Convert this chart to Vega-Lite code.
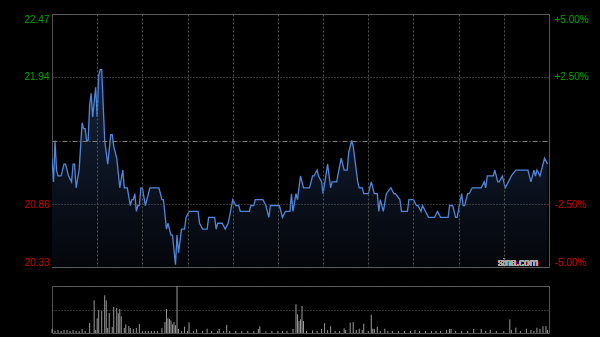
{
"$schema": "https://vega.github.io/schema/vega-lite/v6.json",
"background": "#000000",
"padding": {"left": 23, "top": 13, "right": 13, "bottom": 5},
"bounds": "flush",
"spacing": 19,
"config": {
  "font": "Liberation Sans",
  "view": {"stroke": "#555555", "strokeWidth": 1},
  "axis": {"labelFont": "Liberation Sans", "labelFontSize": 10, "ticks": false, "domain": false, "title": null}
},
"datasets": {
"price": [
{"t":0,"p":21.25},{"t":1,"p":21.05},{"t":2,"p":21.40},{"t":3,"p":21.15},{"t":4,"p":21.10},{"t":6,"p":21.10},{"t":8,"p":21.20},{"t":9,"p":21.20},{"t":11,"p":21.10},{"t":13,"p":21.05},{"t":14,"p":21.20},{"t":15,"p":21.20},{"t":16,"p":21.00},{"t":18,"p":21.15},{"t":20,"p":21.55},{"t":21,"p":21.50},{"t":22,"p":21.50},{"t":23,"p":21.40},{"t":24,"p":21.40},{"t":25,"p":21.70},{"t":26,"p":21.80},{"t":27,"p":21.60},{"t":29,"p":21.85},{"t":30,"p":21.60},{"t":31,"p":21.95},{"t":32,"p":22.00},{"t":33,"p":22.00},{"t":35,"p":21.40},{"t":36,"p":21.30},{"t":37,"p":21.20},{"t":39,"p":21.45},{"t":40,"p":21.45},{"t":41,"p":21.35},{"t":43,"p":21.25},{"t":45,"p":21.00},{"t":47,"p":21.15},{"t":48,"p":21.00},{"t":50,"p":21.00},{"t":52,"p":20.85},{"t":53,"p":20.90},{"t":54,"p":20.90},{"t":55,"p":20.95},{"t":56,"p":20.80},{"t":57,"p":20.85},{"t":58,"p":20.85},{"t":59,"p":21.00},{"t":60,"p":21.00},{"t":62,"p":20.85},{"t":63,"p":20.90},{"t":65,"p":21.00},{"t":71,"p":21.00},{"t":73,"p":20.90},{"t":74,"p":20.90},{"t":76,"p":20.65},{"t":77,"p":20.70},{"t":79,"p":20.60},{"t":80,"p":20.60},{"t":82,"p":20.35},{"t":83,"p":20.60},{"t":84,"p":20.45},{"t":86,"p":20.65},{"t":88,"p":20.65},{"t":89,"p":20.75},{"t":91,"p":20.80},{"t":97,"p":20.80},{"t":98,"p":20.70},{"t":100,"p":20.65},{"t":103,"p":20.65},{"t":104,"p":20.75},{"t":108,"p":20.75},{"t":109,"p":20.65},{"t":110,"p":20.70},{"t":113,"p":20.70},{"t":115,"p":20.65},{"t":117,"p":20.70},{"t":120,"p":20.90},{"t":122,"p":20.85},{"t":124,"p":20.85},{"t":125,"p":20.80},{"t":131,"p":20.80},{"t":132,"p":20.85},{"t":134,"p":20.85},{"t":135,"p":20.90},{"t":140,"p":20.90},{"t":142,"p":20.85},{"t":144,"p":20.75},{"t":145,"p":20.85},{"t":151,"p":20.85},{"t":153,"p":20.75},{"t":155,"p":20.80},{"t":158,"p":20.80},{"t":159,"p":20.95},{"t":160,"p":20.80},{"t":162,"p":20.95},{"t":163,"p":20.90},{"t":165,"p":21.10},{"t":167,"p":21.00},{"t":171,"p":21.00},{"t":173,"p":21.10},{"t":174,"p":21.10},{"t":176,"p":21.15},{"t":177,"p":21.10},{"t":179,"p":21.05},{"t":180,"p":20.95},{"t":183,"p":21.20},{"t":185,"p":21.00},{"t":186,"p":21.05},{"t":189,"p":21.05},{"t":192,"p":21.25},{"t":194,"p":21.15},{"t":196,"p":21.15},{"t":197,"p":21.30},{"t":199,"p":21.40},{"t":200,"p":21.35},{"t":203,"p":21.05},{"t":204,"p":21.00},{"t":206,"p":21.00},{"t":207,"p":20.95},{"t":210,"p":20.95},{"t":212,"p":21.05},{"t":214,"p":20.95},{"t":216,"p":20.95},{"t":217,"p":20.80},{"t":218,"p":20.90},{"t":220,"p":20.80},{"t":222,"p":20.95},{"t":225,"p":21.00},{"t":227,"p":20.95},{"t":228,"p":20.95},{"t":231,"p":20.90},{"t":232,"p":20.80},{"t":236,"p":20.80},{"t":237,"p":20.90},{"t":240,"p":20.90},{"t":242,"p":20.85},{"t":243,"p":20.85},{"t":245,"p":20.80},{"t":246,"p":20.85},{"t":248,"p":20.80},{"t":250,"p":20.75},{"t":254,"p":20.75},{"t":256,"p":20.80},{"t":258,"p":20.75},{"t":263,"p":20.75},{"t":264,"p":20.85},{"t":266,"p":20.85},{"t":268,"p":20.75},{"t":269,"p":20.75},{"t":272,"p":20.95},{"t":273,"p":20.85},{"t":274,"p":20.85},{"t":276,"p":20.95},{"t":277,"p":20.95},{"t":279,"p":21.00},{"t":285,"p":21.00},{"t":287,"p":21.05},{"t":288,"p":21.00},{"t":289,"p":21.10},{"t":293,"p":21.10},{"t":294,"p":21.15},{"t":296,"p":21.05},{"t":297,"p":21.05},{"t":299,"p":21.10},{"t":301,"p":21.00},{"t":303,"p":21.05},{"t":305,"p":21.10},{"t":308,"p":21.15},{"t":316,"p":21.15},{"t":318,"p":21.05},{"t":320,"p":21.15},{"t":321,"p":21.10},{"t":322,"p":21.15},{"t":324,"p":21.10},{"t":325,"p":21.15},{"t":327,"p":21.25},{"t":329,"p":21.20}
],
"vol": [
{"t":0,"v":40000},{"t":2,"v":20000},{"t":4,"v":30000},{"t":6,"v":20000},{"t":8,"v":30000},{"t":10,"v":30000},{"t":12,"v":20000},{"t":14,"v":30000},{"t":16,"v":20000},{"t":18,"v":20000},{"t":20,"v":40000},{"t":22,"v":20000},{"t":25,"v":100000},{"t":28,"v":327000},{"t":29,"v":30000},{"t":30,"v":147000},{"t":31,"v":230000},{"t":33,"v":220000},{"t":35,"v":377000},{"t":36,"v":327000},{"t":37,"v":50000},{"t":38,"v":200000},{"t":40,"v":60000},{"t":41,"v":260000},{"t":43,"v":250000},{"t":44,"v":197000},{"t":45,"v":240000},{"t":46,"v":167000},{"t":48,"v":50000},{"t":49,"v":87000},{"t":51,"v":70000},{"t":52,"v":50000},{"t":54,"v":40000},{"t":56,"v":50000},{"t":58,"v":90000},{"t":60,"v":20000},{"t":62,"v":20000},{"t":64,"v":20000},{"t":66,"v":20000},{"t":68,"v":20000},{"t":70,"v":20000},{"t":73,"v":50000},{"t":75,"v":110000},{"t":76,"v":240000},{"t":77,"v":147000},{"t":78,"v":140000},{"t":79,"v":127000},{"t":80,"v":87000},{"t":81,"v":110000},{"t":82,"v":77000},{"t":83,"v":470000},{"t":84,"v":40000},{"t":86,"v":20000},{"t":88,"v":63000},{"t":90,"v":20000},{"t":91,"v":107000},{"t":94,"v":20000},{"t":96,"v":37000},{"t":100,"v":20000},{"t":103,"v":43000},{"t":106,"v":20000},{"t":110,"v":20000},{"t":111,"v":40000},{"t":114,"v":20000},{"t":116,"v":80000},{"t":118,"v":20000},{"t":122,"v":20000},{"t":126,"v":20000},{"t":130,"v":20000},{"t":134,"v":20000},{"t":137,"v":40000},{"t":138,"v":67000},{"t":142,"v":15000},{"t":146,"v":20000},{"t":150,"v":20000},{"t":153,"v":20000},{"t":156,"v":20000},{"t":160,"v":40000},{"t":162,"v":287000},{"t":163,"v":187000},{"t":164,"v":120000},{"t":165,"v":137000},{"t":166,"v":270000},{"t":167,"v":120000},{"t":169,"v":20000},{"t":173,"v":27000},{"t":176,"v":20000},{"t":179,"v":40000},{"t":181,"v":97000},{"t":183,"v":30000},{"t":185,"v":67000},{"t":188,"v":20000},{"t":191,"v":20000},{"t":194,"v":47000},{"t":195,"v":30000},{"t":198,"v":103000},{"t":200,"v":110000},{"t":202,"v":30000},{"t":204,"v":43000},{"t":206,"v":30000},{"t":207,"v":93000},{"t":210,"v":20000},{"t":212,"v":183000},{"t":213,"v":43000},{"t":214,"v":40000},{"t":216,"v":63000},{"t":218,"v":20000},{"t":221,"v":43000},{"t":223,"v":20000},{"t":226,"v":20000},{"t":230,"v":20000},{"t":234,"v":20000},{"t":238,"v":20000},{"t":241,"v":30000},{"t":244,"v":20000},{"t":248,"v":20000},{"t":252,"v":20000},{"t":255,"v":20000},{"t":258,"v":20000},{"t":262,"v":30000},{"t":264,"v":40000},{"t":265,"v":40000},{"t":268,"v":20000},{"t":272,"v":20000},{"t":276,"v":20000},{"t":280,"v":40000},{"t":285,"v":40000},{"t":288,"v":20000},{"t":291,"v":30000},{"t":295,"v":20000},{"t":300,"v":20000},{"t":304,"v":137000},{"t":305,"v":30000},{"t":308,"v":53000},{"t":311,"v":20000},{"t":315,"v":43000},{"t":318,"v":30000},{"t":320,"v":20000},{"t":322,"v":53000},{"t":324,"v":40000},{"t":326,"v":67000},{"t":328,"v":70000},{"t":329,"v":30000}
]
},
"vconcat": [
{
  "width": 497, "height": 253,
  "data": {"name": "price"},
  "layer": [
    {
      "mark": {"type": "area", "interpolate": "linear", "clip": true,
        "color": {"gradient": "linear", "x1": 0, "y1": 0, "x2": 0, "y2": 1,
          "stops": [{"offset": 0, "color": "#15233c"}, {"offset": 1, "color": "#04060a"}]}},
      "encoding": {
        "x": {"field": "t", "type": "quantitative",
          "scale": {"domain": [0, 330], "nice": false, "zero": false},
          "axis": {"values": [30,60,90,120,150,180,210,240,270,300], "labels": false, "grid": true, "gridColor": "#555555", "gridDash": [2,2], "zindex": 1, "title": null}},
        "y": {"field": "p", "type": "quantitative",
          "scale": {"domain": [20.33, 22.47], "nice": false, "zero": false},
          "axis": {"orient": "left", "values": [20.33, 20.86, 21.4, 21.94, 22.47], "format": ".2f",
            "labelExpr": "datum.value == 21.4 ? '' : datum.label",
            "labelFlush": true, "labelPadding": 3, "zindex": 1,
            "labelColor": {"condition": {"test": "datum.value > 21.4", "value": "#00a000"}, "value": "#cc0000"},
            "grid": true,
            "gridColor": {"condition": {"test": "datum.value == 21.4", "value": "#808080"}, "value": "#666666"},
            "gridDash": {"condition": {"test": "datum.value == 21.4", "value": [5,2,1,2]}, "value": [1,2]},
            "title": null}},
        "y2": {"datum": 20.33}
      }
    },
    {
      "mark": {"type": "line", "color": "#4f87dc", "strokeWidth": 1.3, "interpolate": "linear", "clip": true},
      "encoding": {
        "x": {"field": "t", "type": "quantitative"},
        "y": {"field": "p", "type": "quantitative",
          "axis": {"orient": "right", "values": [20.33, 20.86, 21.94, 22.47],
            "labelExpr": "datum.value > 22 ? '+5.00%' : datum.value > 21.4 ? '+2.50%' : datum.value > 20.5 ? '-2.50%' : '-5.00%'",
            "labelFlush": true, "labelPadding": 5,
            "labelColor": {"condition": {"test": "datum.value > 21.4", "value": "#00a000"}, "value": "#cc0000"},
            "grid": false, "title": null}}
      }
    },
    {
      "mark": {"type": "text", "align": "right", "baseline": "alphabetic", "fontSize": 10, "color": "#aaaaaa", "font": "Liberation Sans"},
      "encoding": {
        "x": {"datum": 322.7, "type": "quantitative"},
        "y": {"datum": 20.335, "type": "quantitative", "axis": null},
        "text": {"value": "sina.com"}
      }
    }
  ],
  "resolve": {"axis": {"y": "independent"}}
},
{
  "width": 497, "height": 47,
  "data": {"name": "vol"},
  "mark": {"type": "rule", "color": "#999999", "strokeWidth": 1},
  "encoding": {
    "x": {"field": "t", "type": "quantitative", "scale": {"domain": [0, 330], "nice": false, "zero": false}, "axis": null},
    "y": {"field": "v", "type": "quantitative", "scale": {"domain": [0, 470000], "nice": false},
      "axis": {"values": [235000, 470000], "labels": false, "grid": true, "gridColor": "#666666", "gridDash": [1,2], "title": null}},
    "y2": {"datum": 0}
  }
}
]
}
